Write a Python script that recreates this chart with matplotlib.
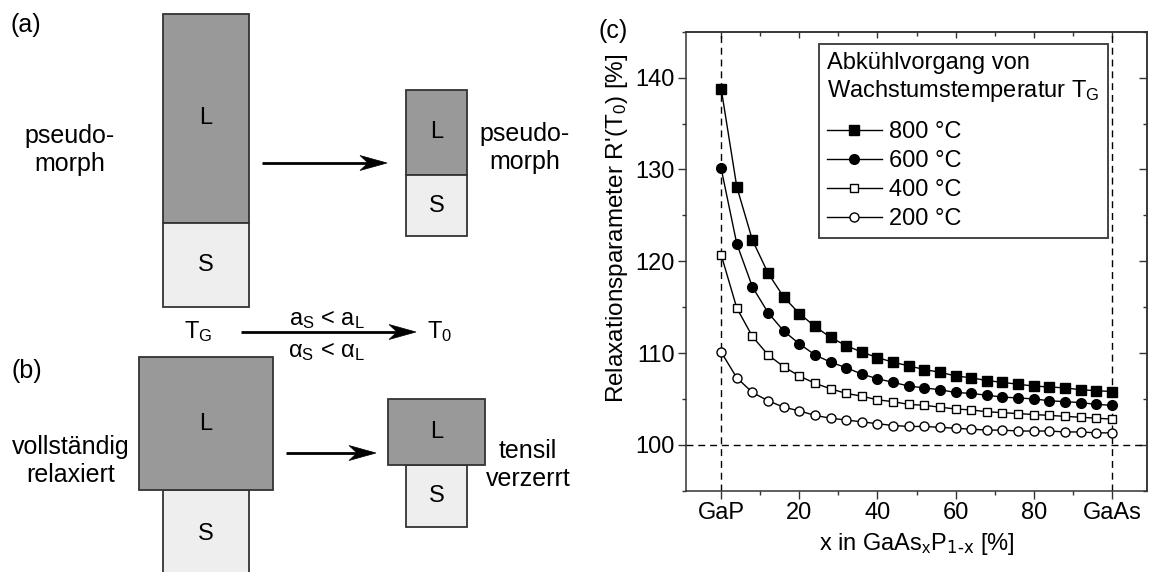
import matplotlib
matplotlib.use("Agg")
import matplotlib.pyplot as plt
from matplotlib.patches import Rectangle, Polygon
from matplotlib.ticker import FixedLocator, MultipleLocator

plt.rcParams["font.family"] = ["Liberation Sans", "DejaVu Sans"]
plt.rcParams["mathtext.default"] = "regular"

# composition x in GaAs(x)P(1-x) [%]
x_percent = [0, 4, 8, 12, 16, 20, 24, 28, 32, 36, 40, 44, 48, 52,
             56, 60, 64, 68, 72, 76, 80, 84, 88, 92, 96, 100]

# relaxation parameter R'(T0) [%] for each growth temperature
r_800 = [138.8, 128.1, 122.3, 118.7, 116.1, 114.3, 112.9, 111.7, 110.8,
         110.1, 109.5, 109.0, 108.6, 108.2, 107.9, 107.5, 107.3, 107.0,
         106.8, 106.6, 106.4, 106.3, 106.2, 106.0, 105.9, 105.8]
r_600 = [130.1, 121.9, 117.2, 114.4, 112.4, 111.0, 109.8, 109.0, 108.4,
         107.7, 107.2, 106.8, 106.4, 106.2, 106.0, 105.7, 105.6, 105.4,
         105.2, 105.1, 105.0, 104.8, 104.7, 104.6, 104.4, 104.3]
r_400 = [120.7, 114.9, 111.8, 109.8, 108.5, 107.5, 106.7, 106.1, 105.6,
         105.3, 104.9, 104.7, 104.4, 104.3, 104.1, 103.9, 103.8, 103.6,
         103.5, 103.4, 103.3, 103.2, 103.1, 103.0, 102.9, 102.8]
r_200 = [110.1, 107.3, 105.7, 104.8, 104.1, 103.7, 103.2, 102.9, 102.7,
         102.5, 102.3, 102.1, 102.0, 102.0, 101.9, 101.8, 101.7, 101.6,
         101.6, 101.5, 101.5, 101.5, 101.4, 101.4, 101.3, 101.3]

series_labels = ["800 °C", "600 °C", "400 °C", "200 °C"]

x_tick_values = [0, 20, 40, 60, 80, 100]
x_tick_labels = ["GaP", "20", "40", "60", "80", "GaAs"]
x_minor_values = [10, 30, 50, 70, 90]
ref_x = [0, 100]
ref_y = 100

DARK = "#333333"
L_GRAY = "#999999"
S_GRAY = "#eeeeee"

W, H = 1149, 572
fig = plt.figure(figsize=(W / 100, H / 100), dpi=100)

# ---- schematic (a)/(b), drawn in pixel coordinates ----
sk = fig.add_axes([0, 0, 1, 1])
sk.set_xlim(0, W)
sk.set_ylim(H, 0)
sk.axis("off")


def block(x0, x1, y0, y1, color, label):
    sk.add_patch(Rectangle((x0, y0), x1 - x0, y1 - y0, facecolor=color,
                           edgecolor=DARK, lw=1.3))
    sk.text((x0 + x1) / 2, (y0 + min(y1, H + 5)) / 2, label, ha="center",
            va="center", fontsize=17)


def arrow(x0, x1, y):
    sk.plot([x0, x1 - 18], [y, y], color="black", lw=2.0,
            solid_capstyle="butt")
    sk.add_patch(Polygon([(x1, y), (x1 - 27, y - 7.5), (x1 - 19, y),
                          (x1 - 27, y + 7.5)], closed=True,
                         facecolor="black", edgecolor="black", lw=0.5))


# (a) pseudomorph
block(163, 249, 14, 223, L_GRAY, "L")
block(163, 249, 223, 307, S_GRAY, "S")
block(406, 467, 90, 175, L_GRAY, "L")
block(406, 467, 175, 236, S_GRAY, "S")
arrow(262, 387, 163)

# (b) fully relaxed
block(163, 249, 490, 600, S_GRAY, "S")
block(139, 273, 357, 490, L_GRAY, "L")
block(406, 467, 465, 527, S_GRAY, "S")
block(388, 485, 399, 465, L_GRAY, "L")
arrow(286, 376, 453)

# cooling arrow
arrow(241, 416, 332)

sk.text(26, 25, "(a)", ha="center", va="center", fontsize=18)
sk.text(27, 371, "(b)", ha="center", va="center", fontsize=18)
sk.text(70, 150, "pseudo-\nmorph", ha="center", va="center", fontsize=18)
sk.text(525, 148, "pseudo-\nmorph", ha="center", va="center", fontsize=18)
sk.text(71, 461, "vollständig\nrelaxiert", ha="center", va="center",
        fontsize=18)
sk.text(528, 465, "tensil\nverzerrt", ha="center", va="center", fontsize=18)
sk.text(198, 338, "T$_G$", ha="center", va="baseline", fontsize=17)
sk.text(440, 338, "T$_0$", ha="center", va="baseline", fontsize=17)
sk.text(327, 325, "a$_S$ < a$_L$", ha="center", va="baseline", fontsize=17)
sk.text(327, 357, "α$_S$ < α$_L$", ha="center", va="baseline", fontsize=17)
sk.text(598, 31, "(c)", ha="left", va="center", fontsize=18)

# ---- chart (c) ----
ax = fig.add_axes([686 / W, (H - 490.7) / H, 461 / W, 459 / H])

for xv in ref_x:
    ax.axvline(xv, color="black", lw=1.0, ls=(0, (5, 3.5)), zorder=1)
ax.axhline(ref_y, color="black", lw=1.0, ls=(0, (5, 3.5)), zorder=1)

styles = [
    dict(marker="s", markersize=6.5, markerfacecolor="black"),
    dict(marker="o", markersize=7, markerfacecolor="black"),
    dict(marker="s", markersize=6, markerfacecolor="white"),
    dict(marker="o", markersize=6.5, markerfacecolor="white"),
]
for values, label, st in zip([r_800, r_600, r_400, r_200], series_labels,
                             styles):
    ax.plot(x_percent, values, color="black", lw=1.0,
            markeredgecolor="black", markeredgewidth=1.0, label=label,
            zorder=3, **st)

ax.set_xlim(-9, 109)
ax.set_ylim(95, 145)
ax.xaxis.set_major_locator(FixedLocator(x_tick_values))
ax.set_xticklabels(x_tick_labels)
ax.xaxis.set_minor_locator(FixedLocator(x_minor_values))
ax.yaxis.set_major_locator(MultipleLocator(10))
ax.yaxis.set_minor_locator(MultipleLocator(5))
ax.tick_params(which="both", direction="out", color=DARK, width=1.0,
               labelsize=17, top=False, right=False)
ax.tick_params(which="major", length=6, pad=2)
ax.tick_params(which="minor", length=3)
for sp in ax.spines.values():
    sp.set_color(DARK)
    sp.set_linewidth(1.1)

# mirrored ticks pointing inwards on top and right
sec_x = ax.secondary_xaxis("top")
sec_x.xaxis.set_major_locator(FixedLocator(x_tick_values))
sec_x.xaxis.set_minor_locator(FixedLocator(x_minor_values))
sec_x.tick_params(which="both", direction="in", color=DARK, width=1.0,
                  labeltop=False)
sec_x.tick_params(which="major", length=4)
sec_x.tick_params(which="minor", length=3)
sec_y = ax.secondary_yaxis("right")
sec_y.yaxis.set_major_locator(MultipleLocator(10))
sec_y.yaxis.set_minor_locator(MultipleLocator(5))
sec_y.tick_params(which="both", direction="in", color=DARK, width=1.0,
                  labelright=False)
sec_y.tick_params(which="major", length=6)
sec_y.tick_params(which="minor", length=3)
for s in (sec_x, sec_y):
    for sp in s.spines.values():
        sp.set_color(DARK)
        sp.set_linewidth(1.1)

ax.set_xlabel(r"x in GaAs$_x$P$_{\text{1-x}}$ [%]", fontsize=17, va="top")
ax.xaxis.set_label_coords(0.5, -0.088)
ax.set_ylabel("Relaxationsparameter R'(T$_0$) [%]", fontsize=17.5)
ax.yaxis.set_label_coords(-0.122, 0.572)

leg = ax.legend(title="Abkühlvorgang von\nWachstumstemperatur T$_G$",
                loc="upper left", bbox_to_anchor=(0.2885, 0.973),
                fontsize=17, title_fontsize=17, frameon=True, fancybox=False,
                edgecolor="#444444", framealpha=1, borderaxespad=0,
                handlelength=2.3, handletextpad=0.3, labelspacing=0.3,
                borderpad=0.35, alignment="left")
leg._legend_box.sep = 12
leg.get_frame().set_linewidth(1.4)

fig.savefig("out.png", dpi=100)
